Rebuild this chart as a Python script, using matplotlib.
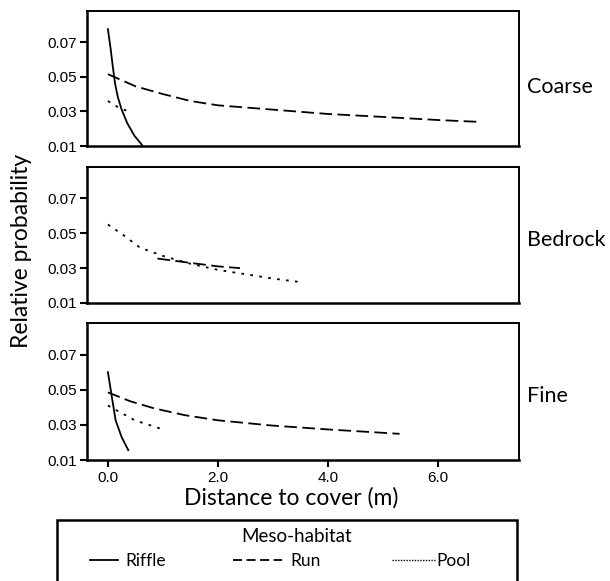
import matplotlib
matplotlib.use("Agg")
import matplotlib.pyplot as plt
from matplotlib.lines import Line2D
from matplotlib.patches import Rectangle

# ---- data ----
panels = ["Coarse", "Bedrock", "Fine"]

coarse_riffle_x = [0.0, 0.05, 0.09, 0.13, 0.18, 0.25, 0.35, 0.48, 0.62]
coarse_riffle_y = [0.0775, 0.066, 0.0556, 0.046, 0.0383, 0.031, 0.0233, 0.016, 0.0106]
coarse_run_x = [0.0, 0.5, 1.0, 1.5, 2.0, 3.0, 4.0, 5.0, 6.0, 6.7]
coarse_run_y = [0.0515, 0.0445, 0.040, 0.036, 0.0335, 0.031, 0.0285, 0.0268, 0.025, 0.024]
coarse_pool_x = [0.0, 0.18, 0.37]
coarse_pool_y = [0.036, 0.0325, 0.030]

bedrock_run_x = [0.9, 1.5, 2.0, 2.4]
bedrock_run_y = [0.0355, 0.033, 0.031, 0.030]
bedrock_pool_x = [0.0, 0.3, 0.58, 1.0, 1.5, 2.0, 2.5, 3.0, 3.5]
bedrock_pool_y = [0.055, 0.0485, 0.0418, 0.037, 0.0325, 0.029, 0.0265, 0.024, 0.022]

fine_riffle_x = [0.0, 0.07, 0.14, 0.25, 0.37]
fine_riffle_y = [0.060, 0.0462, 0.0326, 0.023, 0.0156]
fine_run_x = [0.0, 0.4, 0.84, 1.4, 2.0, 2.95, 4.0, 5.3]
fine_run_y = [0.0485, 0.0435, 0.0394, 0.0355, 0.0326, 0.0297, 0.0274, 0.0249]
fine_pool_x = [0.0, 0.49, 1.02]
fine_pool_y = [0.041, 0.0326, 0.0272]

yticks = [0.01, 0.03, 0.05, 0.07]
ytick_labels = ["0.01", "0.03", "0.05", "0.07"]
xticks = [0.0, 2.0, 4.0, 6.0]
xtick_labels = ["0.0", "2.0", "4.0", "6.0"]

series = {
    "Coarse": [("Riffle", coarse_riffle_x, coarse_riffle_y),
               ("Run", coarse_run_x, coarse_run_y),
               ("Pool", coarse_pool_x, coarse_pool_y)],
    "Bedrock": [("Run", bedrock_run_x, bedrock_run_y),
                ("Pool", bedrock_pool_x, bedrock_pool_y)],
    "Fine": [("Riffle", fine_riffle_x, fine_riffle_y),
             ("Run", fine_run_x, fine_run_y),
             ("Pool", fine_pool_x, fine_pool_y)],
}

styles = {
    "Riffle": dict(linestyle="-"),
    "Run": dict(linestyle=(0, (7, 3))),
    "Pool": dict(linestyle=(0, (1.5, 3.5))),
}

W, H = 610, 581
fig = plt.figure(figsize=(W / 100, H / 100), dpi=100)

def fx(px):
    return px / W

def fy(py):
    return 1 - py / H

boxes = [(11, 146), (167, 303), (323, 460)]
label_y = [87, 240, 396]
left, right = 87, 519
tickfont = dict(family=["Liberation Sans", "DejaVu Sans"], size=11)
labfont = ["Lato", "DejaVu Sans"]

for i, (name, (top, bot)) in enumerate(zip(panels, boxes)):
    ax = fig.add_axes([fx(left), fy(bot), fx(right) - fx(left), fy(top) - fy(bot)])
    for lab, xs, ys in series[name]:
        ax.plot(xs, ys, color="black", linewidth=1.3, **styles[lab])
    ax.set_xlim(-0.38, 7.47)
    ax.set_ylim(0.01, 0.088)
    ax.set_yticks(yticks)
    ax.set_yticklabels(ytick_labels, **tickfont)
    ax.tick_params(axis="y", direction="out", length=5, width=1.5, pad=2)
    for s in ax.spines.values():
        s.set_linewidth(1.4)
    ax.spines["left"].set_linewidth(1.8)
    ax.spines["bottom"].set_linewidth(1.8)
    if i == 2:
        ax.set_xticks(xticks)
        ax.set_xticklabels(xtick_labels, **tickfont)
        ax.tick_params(axis="x", direction="out", length=5, width=1.5, pad=3)
    else:
        ax.set_xticks([])
    fig.text(fx(527), fy(label_y[i]), name, family=labfont, fontsize=15.5,
             ha="left", va="center")

fig.text(fx(22), fy(251), "Relative probability", family=labfont,
         fontsize=16.5, rotation=90, ha="center", va="center")
fig.text(fx(291), fy(498), "Distance to cover (m)", family=labfont, fontsize=16.5,
         ha="center", va="center")

# legend box (extends beyond figure bottom)
rect = Rectangle((fx(57), fy(600)), fx(517) - fx(57), fy(520) - fy(600),
                 transform=fig.transFigure, fill=False, edgecolor="black",
                 linewidth=1.8, clip_on=False)
fig.patches.append(rect)
fig.text(fx(297), fy(537), "Meso-habitat", family=labfont, fontsize=13.5,
         ha="center", va="center")
legend_items = [("Riffle", 90, 118, 125), ("Run", 233, 282, 290), ("Pool", 392, 435, 436)]
legend_styles = {"Riffle": "-", "Run": (0, (5, 2.5)), "Pool": (0, (1, 1))}
for lab, x0, x1, xt in legend_items:
    fig.add_artist(Line2D([fx(x0), fx(x1)], [fy(560), fy(560)], transform=fig.transFigure,
                          color="black", linewidth=1.3 if lab != "Pool" else 1.0,
                          linestyle=legend_styles[lab]))
    fig.text(fx(xt), fy(561), lab, family=labfont, fontsize=12.5, ha="left", va="center")

fig.savefig("out.png", dpi=100)
